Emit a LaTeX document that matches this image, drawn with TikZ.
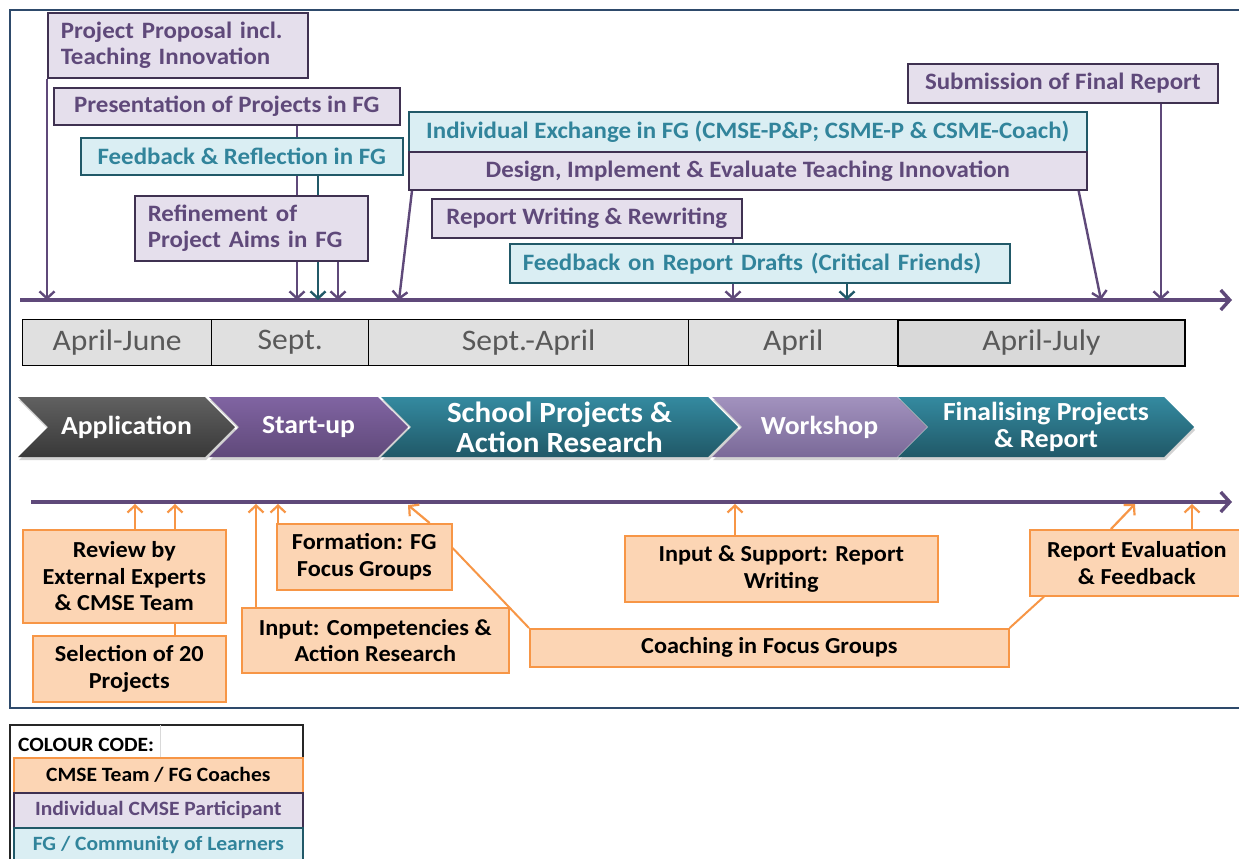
\documentclass[tikz,border=0pt]{standalone}
\usepackage{fontspec}
\setmainfont{Carlito}[FakeStretch=1.06]
\usetikzlibrary{arrows.meta,shapes.symbols,shadows}
\pgfdeclarelayer{bg}
\pgfdeclarelayer{paper}
\pgfsetlayers{paper,bg,main}
\definecolor{pfill}{HTML}{E5DFEC}
\definecolor{pdraw}{HTML}{3F3151}
\definecolor{ptext}{HTML}{5F497A}
\definecolor{tfill}{HTML}{DAEEF3}
\definecolor{tdraw}{HTML}{215968}
\definecolor{ttext}{HTML}{31849B}
\definecolor{ofill}{HTML}{FCD5B4}
\definecolor{odraw}{HTML}{F79646}
\definecolor{pline}{HTML}{5F497A}
\definecolor{tline}{HTML}{215968}
\definecolor{framec}{HTML}{2E4A6B}
\definecolor{mfill}{HTML}{E0E0E0}
\definecolor{mtext}{HTML}{595959}
\tikzset{
  box/.style={draw, line width=1.6pt, inner sep=0pt, anchor=north west, align=center,
    font=\bfseries\fontsize{23.5}{26.5}\selectfont},
  pbox/.style={box, fill=pfill, draw=pdraw, text=ptext},
  tbox/.style={box, fill=tfill, draw=tdraw, text=ttext},
  obox/.style={box, fill=ofill, draw=odraw, text=black, font=\bfseries\fontsize{22.9}{26.5}\selectfont},
  mbox/.style={draw=black, line width=1.4pt, fill=mfill, text=mtext, inner sep=0pt,
    anchor=north west, minimum height=46pt, font=\fontsize{29.8}{32}\selectfont},
  chev/.style={signal, signal to=east, signal from=west, signal pointer angle=90,
    minimum height=60pt, inner sep=0pt, text=white, align=center,
    font=\bfseries\fontsize{26.1}{30}\selectfont,
    drop shadow={opacity=0.35, shadow xshift=1pt, shadow yshift=-3pt}},
  parr/.style={draw=pline, line width=2.4pt, -{Straight Barb[length=7pt,width=15pt]}},
  tarr/.style={draw=tline, line width=2.4pt, -{Straight Barb[length=7pt,width=15pt]}},
  oarr/.style={draw=odraw, line width=2.2pt, -{Straight Barb[length=7pt,width=15pt]}},
  oline/.style={draw=odraw, line width=2pt},
  tline/.style={draw=pline, line width=3.4pt, -{Straight Barb[length=9pt,width=20pt]}},
  lfont/.style={font=\bfseries\fontsize{20.3}{22}\selectfont},
}
\begin{document}
\begin{tikzpicture}[x=1pt,y=-1pt]
\useasboundingbox (0,0) rectangle (1239,859);
\begin{pgfonlayer}{paper}
\fill[white] (0,0) rectangle (1239,859);
\end{pgfonlayer}
\draw[framec, line width=2.2pt] (10,10) rectangle (1255,708);

% ---- upper boxes
\node[pbox, text width=234pt, inner xsep=13pt, align=left, minimum height=65pt] (pp) at (47,12) {Project Proposal incl.\\Teaching Innovation};
\node[pbox, minimum width=346pt, minimum height=37pt] (pr) at (53,87) {Presentation of Projects in FG};
\node[tbox, minimum width=322pt, minimum height=37pt] (fr) at (80,137) {Feedback \& Reflection in FG};
\node[pbox, text width=207pt, inner xsep=13pt, align=left, minimum height=65pt] (ra) at (134,195) {Refinement of\\Project Aims in FG};
\node[tbox, minimum width=678pt, minimum height=40pt] (ie) at (408,111) {Individual Exchange in FG (CMSE-P\&P; CSME-P \& CSME-Coach)};
\node[pbox, minimum width=678pt, minimum height=38pt] (di) at (408,151) {Design, Implement \& Evaluate Teaching Innovation};
\node[pbox, minimum width=310pt, minimum height=39pt] (rw) at (431,198) {Report Writing \& Rewriting};
\node[tbox, text width=474pt, inner xsep=13pt, align=left, minimum height=39pt] (fd) at (509,243) {Feedback on Report Drafts (Critical Friends)};
\node[pbox, minimum width=310pt, minimum height=39pt] (sf) at (907,63) {Submission of Final Report};

% ---- timeline coordinates
\coordinate (t0) at (20,300);
\coordinate (t1) at (1232,300);
\coordinate (a1) at (47,300);
\coordinate (a2) at (297,300);
\coordinate (a3) at (318,300);
\coordinate (a4) at (338,300);
\coordinate (a5) at (399,300);
\coordinate (a6) at (1101,300);
\coordinate (a7) at (733,300);
\coordinate (a8) at (847,300);
\coordinate (a9) at (1161,300);

% ---- months
\node[mbox, minimum width=189pt] (m1) at (22,319) {April-June};
\node[mbox, minimum width=157pt] (m2) at (211,319) {Sept.};
\node[mbox, minimum width=320pt] (m3) at (368,319) {Sept.-April};
\node[mbox, minimum width=209pt] (m4) at (688,319) {April};
\node[mbox, minimum width=287pt, fill=black!15, line width=1.8pt] (m5) at (897,319) {April-July};

% ---- phases
\node[chev, top color=black!62, bottom color=black!78, minimum width=217pt] (c1) at (126.5,427) {Application};
\node[chev, top color={rgb,255:red,128;green,100;blue,162}, bottom color={rgb,255:red,96;green,73;blue,122}, minimum width=199pt] (c2) at (308.5,427) {Start-up};
\node[chev, top color={rgb,255:red,52;green,138;blue,160}, bottom color={rgb,255:red,32;green,88;blue,103}, minimum width=357pt, font=\bfseries\fontsize{29.3}{30}\selectfont] (c3) at (559.5,427) {School Projects \&\\Action Research};
\node[chev, top color={rgb,255:red,162;green,146;blue,190}, bottom color={rgb,255:red,122;green,105;blue,152}, minimum width=215pt] (c4) at (819.5,427) {Workshop};
\node[chev, top color={rgb,255:red,52;green,138;blue,160}, bottom color={rgb,255:red,32;green,88;blue,103}, minimum width=296pt, font=\bfseries\fontsize{26.1}{27}\selectfont] (c5) at (1046,427) {Finalising Projects\\\& Report};

% ---- lower boxes
\node[obox, minimum width=203pt, minimum height=93pt] (rv) at (22,529) {Review by\\External Experts\\\& CMSE Team};
\node[obox, minimum width=193pt, minimum height=66pt] (sl) at (32,635) {Selection of 20\\Projects};
\node[obox, minimum width=175pt, minimum height=66pt] (fo) at (276,523) {Formation: FG\\Focus Groups};
\node[obox, minimum width=267pt, minimum height=65pt] (in) at (241,607) {Input: Competencies \&\\Action Research};
\node[obox, minimum width=479pt, minimum height=38pt] (co) at (529,628) {Coaching in Focus Groups};
\node[obox, minimum width=313pt, minimum height=66pt] (is) at (624,535) {Input \& Support: Report\\Writing};
\node[obox, minimum width=214pt, minimum height=66pt] (re) at (1029,529) {Report Evaluation\\\& Feedback};

\coordinate (u0) at (31,502);
\coordinate (u1) at (1232,502);
\coordinate (b1) at (135,504);
\coordinate (b2) at (175,504);
\coordinate (b3) at (256,504);
\coordinate (b4) at (278,504);
\coordinate (b5) at (408,505);
\coordinate (b6) at (735,504);
\coordinate (b7) at (1135,504);
\coordinate (b8) at (1192,504);

% ---- legend
\draw[black!85, line width=1.4pt] (10,725) rectangle (303,870);
\draw[black!15, line width=0.8pt] (160,725) -- (160,757);
\node[lfont, anchor=west, inner sep=0pt] (lg) at (18,745) {COLOUR CODE:};
\node[obox, lfont, minimum width=289pt, minimum height=35pt] (l1) at (13,757) {CMSE Team / FG Coaches};
\node[pbox, lfont, minimum width=289pt, minimum height=35pt] (l2) at (13,792) {Individual CMSE Participant};
\node[tbox, lfont, minimum width=289pt, minimum height=35pt] (l3) at (13,827) {FG / Community of Learners};

\begin{pgfonlayer}{bg}
\draw[tline] (t0) -- (t1);
\draw[parr] (pp.south west) -- (a1);
\draw[parr] (pr.south -| a2) -- (a2);
\draw[tarr] (fr.south -| a3) -- (a3);
\draw[parr] (ra.south -| a4) -- (a4);
\draw[parr] ([xshift=4pt]di.south west) -- (a5);
\draw[parr] ([xshift=-9pt]di.south east) -- (a6);
\draw[parr] (rw.south -| a7) -- (a7);
\draw[tarr] (fd.south -| a8) -- (a8);
\draw[parr] (sf.south -| a9) -- (a9);

\draw[tline] (u0) -- (u1);
\draw[oarr] (rv.north -| b1) -- (b1);
\draw[oarr] (rv.north -| b2) -- (b2);
\draw[oline] (sl.north -| b2) -- (rv.south -| b2);
\draw[oarr] (in.north -| b3) -- (b3);
\draw[oarr] (fo.north -| b4) -- (b4);
\draw[oarr] ([xshift=-23pt]fo.north east) -- (b5);
\draw[oline] ([yshift=-25pt]fo.north east) -- (co.north west);
\draw[oarr] (is.north -| b6) -- (b6);
\draw[oline] (co.north east) -- ([xshift=15pt]re.south west);
\draw[oarr] ([xshift=82pt]re.north west) -- (b7);
\draw[oarr] (re.north -| b8) -- (b8);
\end{pgfonlayer}
\end{tikzpicture}
\end{document}
